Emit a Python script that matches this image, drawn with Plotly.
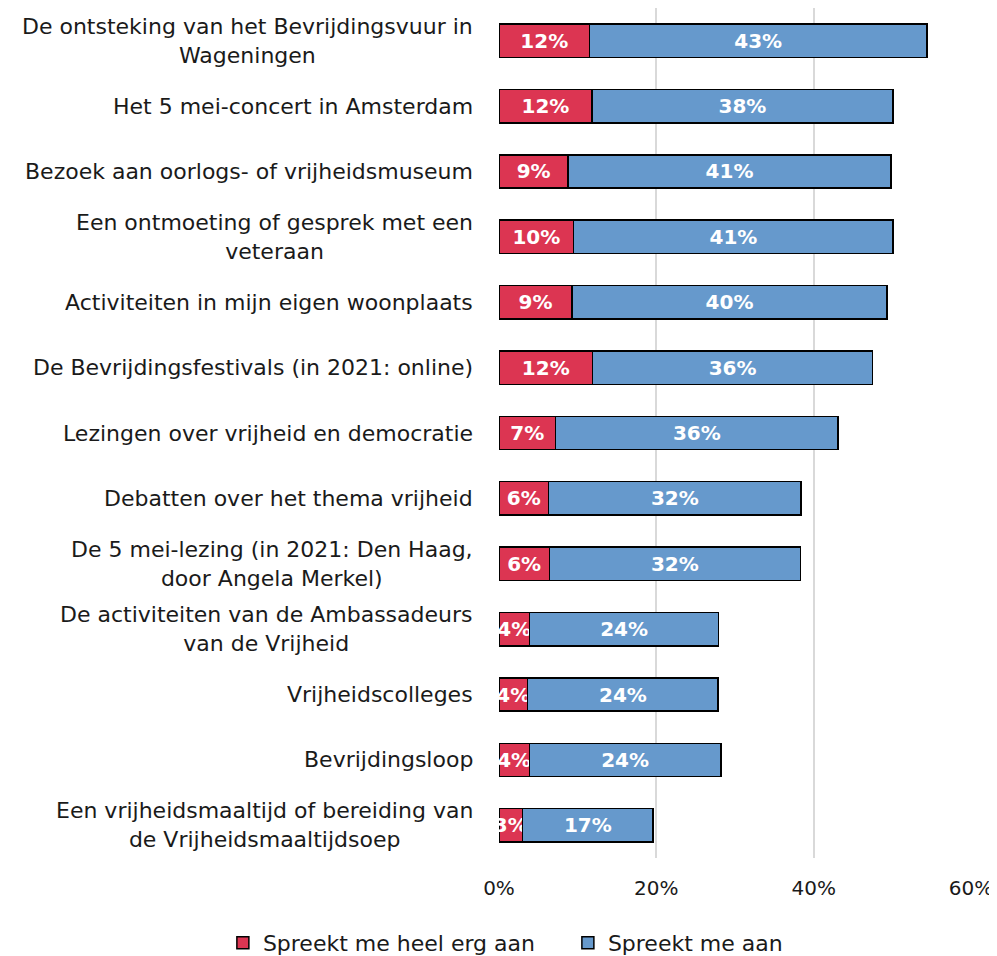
import plotly.graph_objects as go

# activiteiten, van boven naar beneden
categories = [
    "De ontsteking van het Bevrijdingsvuur in<br>Wageningen",
    "Het 5 mei-concert in Amsterdam",
    "Bezoek aan oorlogs- of vrijheidsmuseum",
    "Een ontmoeting of gesprek met een<br>veteraan",
    "Activiteiten in mijn eigen woonplaats",
    "De Bevrijdingsfestivals (in 2021: online)",
    "Lezingen over vrijheid en democratie",
    "Debatten over het thema vrijheid",
    "De 5 mei-lezing (in 2021: Den Haag,<br>door Angela Merkel)",
    "De activiteiten van de Ambassadeurs<br>van de Vrijheid",
    "Vrijheidscolleges",
    "Bevrijdingsloop",
    "Een vrijheidsmaaltijd of bereiding van<br>de Vrijheidsmaaltijdsoep",
]

heel_erg = [11.5, 11.8, 8.8, 9.5, 9.3, 11.9, 7.2, 6.3, 6.4, 3.9, 3.65, 3.85, 3.0]
aan = [42.9, 38.3, 41.0, 40.6, 40.0, 35.6, 35.9, 32.1, 31.9, 24.0, 24.2, 24.35, 16.6]

tick_vals = [0, 20, 40, 60]
tick_text = ["0%", "20%", "40%", "60%"]

red = "#DC3552"
blue = "#6699CC"
font = "DejaVu Sans"

fig = go.Figure()
fig.add_trace(go.Bar(
    y=categories, x=heel_erg, orientation="h", name="Spreekt me heel erg aan",
    marker=dict(color=red, line=dict(color="black", width=1.5)),
    text=[f"{v:.0f}%" for v in heel_erg], textposition="inside", textangle=0,
    insidetextanchor="middle", constraintext="none",
    textfont=dict(color="white", size=20, family=font, weight="bold"),
))
fig.add_trace(go.Bar(
    y=categories, x=aan, orientation="h", name="Spreekt me aan",
    marker=dict(color=blue, line=dict(color="black", width=1.5)),
    text=[f"{v:.0f}%" for v in aan], textposition="inside", textangle=0,
    insidetextanchor="middle", constraintext="none",
    textfont=dict(color="white", size=20, family=font, weight="bold"),
))

# categorie-labels links, regels gecentreerd
for c in categories:
    fig.add_annotation(
        x=0, xref="paper", y=c, yref="y", xanchor="right", xshift=-24,
        text=c, showarrow=False, align="center",
        font=dict(size=22, family=font, color="#1a1a1a"),
    )

fig.update_layout(
    barmode="stack",
    bargap=0.49,
    width=989, height=948,
    margin=dict(l=491, r=26, t=0, b=98, autoexpand=False),
    plot_bgcolor="white", paper_bgcolor="white",
    font=dict(family=font, size=20, color="#1a1a1a"),
    xaxis=dict(range=[0, 60], tickvals=tick_vals, ticktext=tick_text,
               showgrid=True, gridcolor="#d9d9d9", gridwidth=2,
               zeroline=False, ticks="", tickfont=dict(size=20),
               ticklabelstandoff=16),
    yaxis=dict(autorange="reversed", showticklabels=False, showgrid=False,
               zeroline=False),
    legend=dict(orientation="h", xref="paper", yref="paper",
                x=-0.585, xanchor="left", y=-0.1, yanchor="middle",
                font=dict(size=22), traceorder="normal", itemwidth=30,
                entrywidth=300, entrywidthmode="pixels"),
)

fig.write_html("out.html")
